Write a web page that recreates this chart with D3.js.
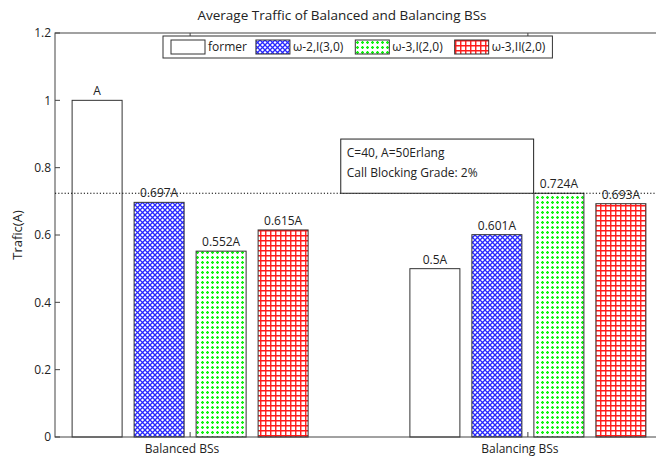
<!DOCTYPE html>
<html>
<head>
<meta charset="utf-8">
<script src="https://cdn.jsdelivr.net/npm/d3@7/dist/d3.min.js"></script>
<style>
  body { margin: 0; background: #fff; }
  svg { display: block; }
  text { font-family: "Open Sans", "DejaVu Sans", sans-serif; fill: #222; }
</style>
</head>
<body>
<svg id="chart" width="656" height="457"></svg>
<script>
// Groups and series
const groups = ["Balanced BSs", "Balancing BSs"];
const series = ["former", "ω-2,I(3,0)", "ω-3,I(2,0)", "ω-3,II(2,0)"];
// Values per series, one entry per group
const former = [1.0, 0.5];
const w2I30 = [0.697, 0.601];
const w3I20 = [0.552, 0.724];
const w3II20 = [0.615, 0.693];
// Labels printed above each bar (per series, per group)
const formerLabels = ["A", "0.5A"];
const w2I30Labels = ["0.697A", "0.601A"];
const w3I20Labels = ["0.552A", "0.724A"];
const w3II20Labels = ["0.615A", "0.693A"];
const yTicks = [0, 0.2, 0.4, 0.6, 0.8, 1, 1.2];
const refLevel = 0.724;
const noteLines = ["C=40, A=50Erlang", "Call Blocking Grade: 2%"];

const seriesValues = [former, w2I30, w3I20, w3II20];
const seriesLabels = [formerLabels, w2I30Labels, w3I20Labels, w3II20Labels];

const svg = d3.select("#chart");
const pLeft = 55, pTop = 33, pBottom = 437, pRight = 663;

const x = d3.scaleLinear().domain([0.6, 2.4]).range([pLeft, pRight]);
const y = d3.scaleLinear().domain([0, 1.2]).range([pBottom, pTop]);
const inner = d3.scaleBand().domain(series).range([-118, 118]).paddingInner(12 / 62).paddingOuter(0);

// Fill patterns
const defs = svg.append("defs");
const pBlue = defs.append("pattern").attr("id", "p1").attr("patternUnits", "userSpaceOnUse")
  .attr("width", 5).attr("height", 5);
pBlue.append("rect").attr("width", 5).attr("height", 5).attr("fill", "#fff");
pBlue.append("path").attr("d", "M0,0L5,5M5,0L0,5")
  .attr("stroke", "#2828ff").attr("stroke-width", 1.3);
const pGreen = defs.append("pattern").attr("id", "p2").attr("patternUnits", "userSpaceOnUse")
  .attr("width", 5).attr("height", 5);
pGreen.append("rect").attr("width", 5).attr("height", 5).attr("fill", "#fff");
pGreen.append("rect").attr("x", 1).attr("y", 2).attr("width", 3).attr("height", 1).attr("fill", "#00ee00");
pGreen.append("rect").attr("x", 2).attr("y", 1).attr("width", 1).attr("height", 3).attr("fill", "#00ee00");
pGreen.append("rect").attr("x", 1.5).attr("y", 1.5).attr("width", 2).attr("height", 2).attr("fill", "#11f511");
const pRed = defs.append("pattern").attr("id", "p3").attr("patternUnits", "userSpaceOnUse")
  .attr("width", 5).attr("height", 5);
pRed.append("rect").attr("width", 5).attr("height", 5).attr("fill", "#fff");
pRed.append("path").attr("d", "M0.75,0V5M0,0.75H5").attr("stroke", "#ff1a1a").attr("stroke-width", 1.4);

const fills = ["#fff", "url(#p1)", "url(#p2)", "url(#p3)"];

// Bars
const barData = [];
series.forEach((s, si) => {
  groups.forEach((g, gi) => {
    barData.push({ s, si, gi, v: seriesValues[si][gi], label: seriesLabels[si][gi] });
  });
});

const bars = svg.append("g");
bars.selectAll("rect").data(barData).join("rect")
  .attr("x", d => x(d.gi + 1) + inner(d.s))
  .attr("y", d => y(d.v))
  .attr("width", inner.bandwidth())
  .attr("height", d => y(0) - y(d.v))
  .attr("fill", d => fills[d.si])
  .attr("stroke", "#333")
  .attr("stroke-width", 1);

// Axes box
const axisColor = "#444";
svg.append("rect").attr("x", pLeft).attr("y", pTop).attr("width", pRight - pLeft).attr("height", pBottom - pTop)
  .attr("fill", "none").attr("stroke", axisColor).attr("stroke-width", 1);

// Y ticks and labels
const yAxis = svg.append("g");
yTicks.forEach(t => {
  yAxis.append("line").attr("x1", pLeft).attr("x2", pLeft + 5).attr("y1", y(t)).attr("y2", y(t)).attr("stroke", axisColor);
});
yAxis.selectAll("text").data(yTicks).join("text")
  .attr("x", pLeft - 4).attr("y", d => y(d)).attr("dy", "0.35em")
  .attr("text-anchor", "end").attr("font-size", 12).text(d => d3.format("~g")(d));

// X ticks and labels
const xAxis = svg.append("g");
groups.forEach((g, gi) => {
  xAxis.append("line").attr("x1", x(gi + 1)).attr("x2", x(gi + 1)).attr("y1", pBottom).attr("y2", pBottom - 5).attr("stroke", axisColor);
  xAxis.append("line").attr("x1", x(gi + 1)).attr("x2", x(gi + 1)).attr("y1", pTop).attr("y2", pTop + 5).attr("stroke", axisColor);
});
xAxis.selectAll("text").data(groups).join("text")
  .attr("x", (d, i) => x(i + 1) - 8).attr("y", pBottom + 16)
  .attr("text-anchor", "middle").attr("font-size", 12).text(d => d);

// Reference level (dotted)
svg.append("line").attr("x1", pLeft).attr("x2", pRight).attr("y1", y(refLevel)).attr("y2", y(refLevel))
  .attr("stroke", "#000").attr("stroke-width", 1.2).attr("stroke-dasharray", "1.2,2");

// Value labels
svg.append("g").selectAll("text").data(barData).join("text")
  .attr("x", d => x(d.gi + 1) + inner(d.s) + inner.bandwidth() / 2)
  .attr("y", d => y(d.v) - 5)
  .attr("text-anchor", "middle").attr("font-size", 12).text(d => d.label);

// Annotation box
const note = svg.append("g");
note.append("rect")
  .attr("x", x(1.446)).attr("y", y(0.885))
  .attr("width", x(2.017) - x(1.446)).attr("height", y(refLevel) - y(0.885))
  .attr("fill", "#fff").attr("stroke", "#222").attr("stroke-width", 1);
note.selectAll("text").data(noteLines).join("text")
  .attr("x", x(1.446) + 6).attr("y", (d, i) => y(0.885) + 18 + i * 20)
  .attr("font-size", 12).text(d => d);

// Title and y label
svg.append("text").attr("x", 342).attr("y", 20).attr("text-anchor", "middle").attr("font-size", 13.5)
  .text("Average Traffic of Balanced and Balancing BSs");
svg.append("text").attr("transform", `translate(22,${(pTop + pBottom) / 2}) rotate(-90)`)
  .attr("text-anchor", "middle").attr("font-size", 13).text("Trafic(A)");

// Legend
const legend = svg.append("g");
const lgX = 163, lgY = 36, lgH = 22;
const lgBox = legend.append("rect").attr("x", lgX).attr("y", lgY).attr("height", lgH)
  .attr("fill", "#fff").attr("stroke", "#333");
let cx = lgX + 8;
series.forEach((s, si) => {
  legend.append("rect").attr("x", cx).attr("y", lgY + 4).attr("width", 34).attr("height", 14)
    .attr("fill", fills[si]).attr("stroke", "#333");
  const t = legend.append("text").attr("x", cx + 37).attr("y", lgY + 11).attr("dy", "0.35em")
    .attr("font-size", 12).text(s);
  cx += 37 + t.node().getComputedTextLength() + (si === 0 ? 9 : 12);
});
lgBox.attr("width", cx - lgX - 5);
</script>
</body>
</html>
